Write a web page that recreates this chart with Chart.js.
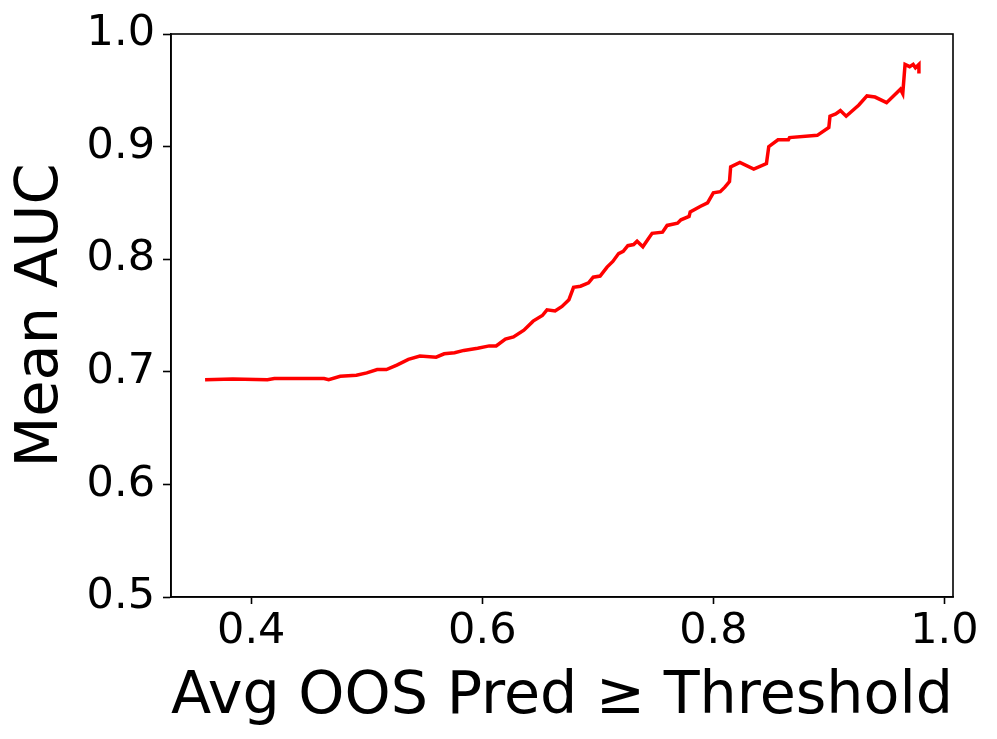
<!DOCTYPE html>
<html lang="en">
<head>
    <meta charset="UTF-8">
    <title>Mean AUC vs Threshold</title>
    <script src="https://cdn.jsdelivr.net/npm/chart.js"></script>
    <style>
        * { margin: 0; padding: 0; box-sizing: border-box; }
        body { background: #fff; width: 997px; height: 739px; overflow: hidden; }
        canvas { display: block; }
    </style>
</head>
<body>
    <canvas id="aucChart" width="997" height="739"></canvas>

    <script>
        // threshold (x) and mean AUC (y)
        const thresholds = [0.360, 0.384, 0.414, 0.420, 0.463, 0.467, 0.477, 0.491, 0.500, 0.509,
            0.517, 0.526, 0.536, 0.546, 0.560, 0.567, 0.576, 0.584, 0.596, 0.606,
            0.612, 0.620, 0.627, 0.636, 0.644, 0.652, 0.656, 0.663, 0.669, 0.675,
            0.679, 0.685, 0.692, 0.696, 0.702, 0.708, 0.713, 0.718, 0.722, 0.726,
            0.731, 0.734, 0.739, 0.743, 0.747, 0.756, 0.760, 0.769, 0.772, 0.779,
            0.780, 0.789, 0.795, 0.800, 0.806, 0.810, 0.814, 0.815, 0.823, 0.835,
            0.846, 0.848, 0.856, 0.865, 0.866, 0.890, 0.900, 0.901, 0.906, 0.910,
            0.915, 0.926, 0.933, 0.940, 0.950, 0.962, 0.964, 0.966, 0.970, 0.973,
            0.975, 0.978, 0.978];
        const meanAuc = [0.693, 0.6936, 0.693, 0.694, 0.694, 0.693, 0.696, 0.697, 0.699, 0.702,
            0.702, 0.706, 0.711, 0.714, 0.713, 0.716, 0.717, 0.719, 0.721, 0.723,
            0.723, 0.729, 0.731, 0.737, 0.745, 0.750, 0.755, 0.754, 0.758, 0.764,
            0.775, 0.776, 0.779, 0.784, 0.785, 0.793, 0.798, 0.805, 0.807, 0.812,
            0.813, 0.816, 0.811, 0.817, 0.823, 0.824, 0.830, 0.832, 0.835, 0.838,
            0.842, 0.847, 0.850, 0.859, 0.860, 0.864, 0.869, 0.882, 0.886, 0.880,
            0.885, 0.900, 0.906, 0.906, 0.908, 0.910, 0.917, 0.927, 0.929, 0.932,
            0.927, 0.937, 0.945, 0.944, 0.939, 0.951, 0.947, 0.973, 0.971, 0.973,
            0.970, 0.973, 0.965];
        const xTicks = [0.4, 0.6, 0.8, 1.0];
        const yTicks = [0.5, 0.6, 0.7, 0.8, 0.9, 1.0];

        const points = thresholds.map((x, i) => ({ x: x, y: meanAuc[i] }));

        // black box around the plot area, like matplotlib spines
        const frame = {
            id: 'frame',
            afterDraw(chart) {
                const a = chart.chartArea;
                const ctx = chart.ctx;
                ctx.save();
                ctx.strokeStyle = '#000';
                ctx.lineWidth = 1.6;
                ctx.strokeRect(a.left, a.top, a.right - a.left, a.bottom - a.top);
                ctx.restore();
            }
        };

        const font = 'DejaVu Sans';

        new Chart(document.getElementById('aucChart').getContext('2d'), {
            type: 'line',
            data: {
                datasets: [{
                    data: points,
                    borderColor: '#ff0000',
                    borderWidth: 3.5,
                    pointRadius: 0,
                    tension: 0,
                    fill: false
                }]
            },
            options: {
                responsive: false,
                animation: false,
                layout: { padding: { top: 34, right: 44, left: 0, bottom: 0 } },
                plugins: {
                    legend: { display: false },
                    tooltip: { enabled: false }
                },
                scales: {
                    x: {
                        type: 'linear',
                        min: 0.3305,
                        max: 1.0075,
                        afterBuildTicks: s => { s.ticks = xTicks.map(v => ({ value: v })); },
                        afterFit: s => { s.height = 142; },
                        grid: { drawOnChartArea: false, tickLength: 7, tickColor: '#000', tickWidth: 1.6 },
                        border: { display: true, color: '#000', width: 1.6 },
                        ticks: {
                            color: '#000',
                            font: { family: font, size: 43 },
                            padding: 2,
                            maxRotation: 0,
                            callback: v => v.toFixed(1)
                        },
                        title: {
                            display: true,
                            text: 'Avg OOS Pred ≥ Threshold',
                            color: '#000',
                            font: { family: font, size: 59 },
                            padding: { top: 0, bottom: 6 }
                        }
                    },
                    y: {
                        min: 0.5,
                        max: 1.0,
                        afterBuildTicks: s => { s.ticks = yTicks.map(v => ({ value: v })); },
                        afterFit: s => { s.width = 171; },
                        grid: { drawOnChartArea: false, tickLength: 8, tickColor: '#000', tickWidth: 1.6 },
                        border: { display: true, color: '#000', width: 1.6 },
                        ticks: {
                            color: '#000',
                            font: { family: font, size: 43 },
                            padding: 8,
                            callback: v => v.toFixed(1)
                        },
                        title: {
                            display: true,
                            text: 'Mean AUC',
                            color: '#000',
                            font: { family: font, size: 59 },
                            padding: { top: 6, bottom: 0 }
                        }
                    }
                }
            },
            plugins: [frame]
        });
    </script>
</body>
</html>
